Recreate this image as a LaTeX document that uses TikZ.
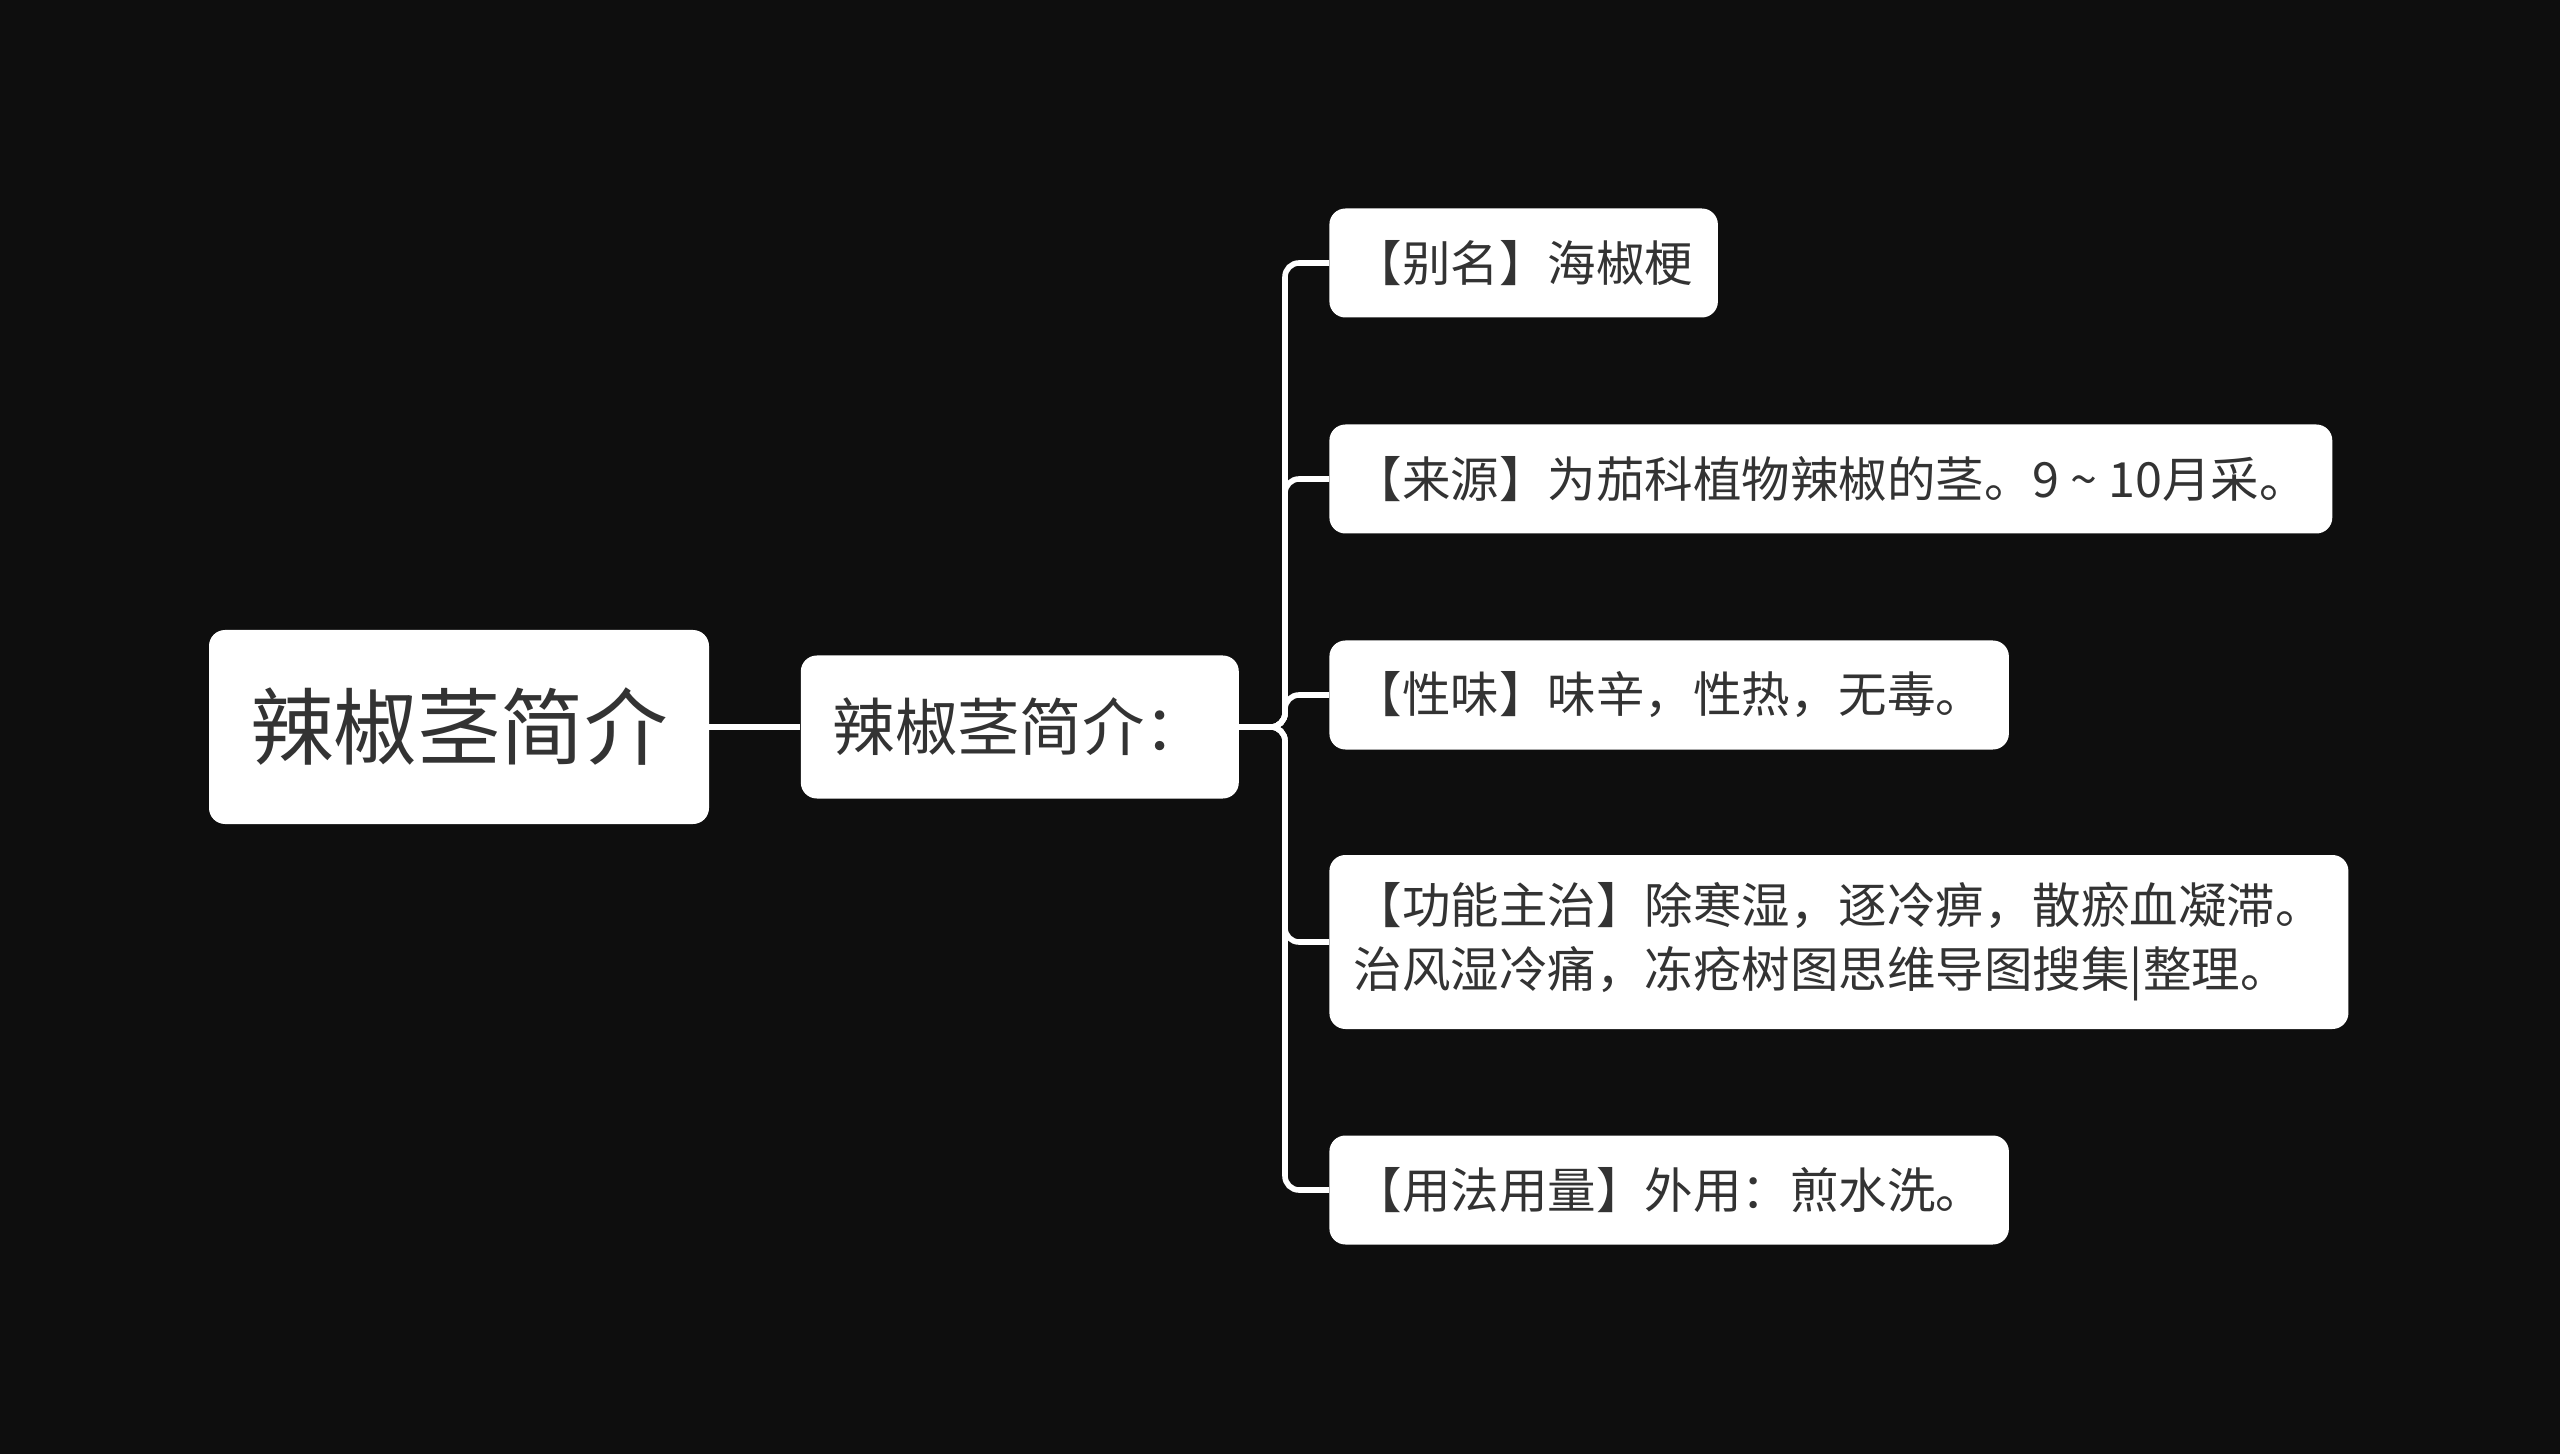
\documentclass[tikz,border=0pt]{standalone}
\usepackage{fontspec}
\setmainfont{Noto Sans CJK SC}
\usepackage{xcolor}
\usepackage{tikz}
\usetikzlibrary{positioning}

\definecolor{bgdark}{HTML}{0E0E0E}
\definecolor{inkgray}{HTML}{333333}

\begin{document}
\begin{tikzpicture}[
x=0.5pt,
y=-0.5pt,
rootbox/.style={
fill=white,
rounded corners=8pt,
minimum width=250pt,
minimum height=97pt,
inner sep=0pt,
text=inkgray,
font=\fontsize{41.8}{50}\selectfont
},
midbox/.style={
fill=white,
rounded corners=8pt,
minimum width=219pt,
minimum height=71.5pt,
inner sep=0pt,
text=inkgray,
font=\fontsize{31.2}{38}\selectfont
},
leaf/.style={
fill=white,
rounded corners=8pt,
anchor=west,
align=left,
inner xsep=12.25pt,
inner ysep=0pt,
minimum height=54.5pt,
text=inkgray,
font=\fontsize{24.25}{32}\selectfont
},
link/.style={
draw=white,
line width=2.8pt,
rounded corners=7pt
}
]

%%%%%%%%%%%%%%%%%%%%%%%%%%%%%%%%%%%%
% Background
%%%%%%%%%%%%%%%%%%%%%%%%%%%%%%%%%%%%

\fill[bgdark] (0,0) rectangle (2560,1454);
\useasboundingbox (0,0) rectangle (2560,1454);

%%%%%%%%%%%%%%%%%%%%%%%%%%%%%%%%%%%%
% Main Blocks
%%%%%%%%%%%%%%%%%%%%%%%%%%%%%%%%%%%%

\node[rootbox] (root) at (459,727)
{辣椒茎简介};

\node[midbox,right=45.5pt of root] (mid)
{辣椒茎简介：};

%%%%%%%%%%%%%%%%%%%%%%%%%%%%%%%%%%%%
% Leaves
%%%%%%%%%%%%%%%%%%%%%%%%%%%%%%%%%%%%

\node[leaf] (alias) at (1329,263)
{【别名】海椒梗};

\node[leaf] (source) at (1329,479)
{【来源】为茄科植物辣椒的茎。9 \char`\~{} 10月采。};

\node[leaf] (taste) at (1329,695)
{【性味】味辛，性热，无毒。};

\node[leaf,minimum height=87pt] (usage) at (1329,942)
{【功能主治】除寒湿，逐冷痹，散瘀血凝滞。\\
治风湿冷痛，冻疮树图思维导图搜集|整理。};

\node[leaf] (dose) at (1329,1190)
{【用法用量】外用：煎水洗。};

%%%%%%%%%%%%%%%%%%%%%%%%%%%%%%%%%%%%
% Connections
%%%%%%%%%%%%%%%%%%%%%%%%%%%%%%%%%%%%

\coordinate (hub) at (1285,727);

\draw[link] (root)--(mid);

\draw[link] (mid.east)--(hub)|-(alias.west);

\draw[link] (mid.east)--(hub)|-(source.west);

\draw[link] (mid.east)--(hub)|-(taste.west);

\draw[link] (mid.east)--(hub)|-(usage.west);

\draw[link] (mid.east)--(hub)|-(dose.west);

\end{tikzpicture}
\end{document}
